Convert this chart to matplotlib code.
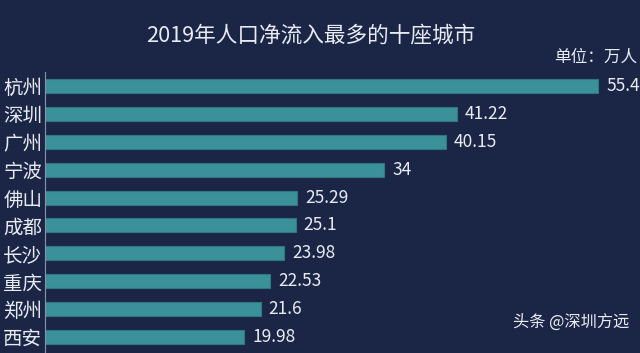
import matplotlib.pyplot as plt

plt.rcParams['font.family'] = ['Noto Sans CJK SC', 'DejaVu Sans']

cities = ['杭州', '深圳', '广州', '宁波', '佛山', '成都', '长沙', '重庆', '郑州', '西安']
values = [55.4, 41.22, 40.15, 34, 25.29, 25.1, 23.98, 22.53, 21.6, 19.98]
labels = ['55.4', '41.22', '40.15', '34', '25.29', '25.1', '23.98', '22.53', '21.6', '19.98']

bg = '#1b2546'
bar_color = '#3b9199'

fig = plt.figure(figsize=(6.4, 3.53), dpi=100, facecolor=bg)
ax = fig.add_axes([45 / 640, 0, 595 / 640, 281 / 353])
ax.set_facecolor(bg)

pos = range(len(cities))
ax.barh(pos, values, height=0.5, color=bar_color, edgecolor='#2f7880', linewidth=0.8)
for i, (v, t) in enumerate(zip(values, labels)):
    ax.text(v + 0.8, i, t, color='#e8ecf2', fontsize=12.5, va='center', ha='left')

ax.set_xlim(0, 59.6)
ax.set_ylim(9.57, -0.5)
ax.set_yticks(list(pos))
ax.set_yticklabels(cities, color='#e8ecf2', fontsize=14)
ax.tick_params(axis='y', length=0, pad=2)
ax.set_xticks([])
for s in ['top', 'right', 'bottom']:
    ax.spines[s].set_visible(False)
ax.spines['left'].set_color('#8a93a8')
ax.spines['left'].set_linewidth(0.8)

fig.text(311 / 640, 1 - 35 / 353, '2019年人口净流入最多的十座城市', color='#e8ecf2',
         fontsize=15.6, ha='center', va='center')
fig.text(637 / 640, 1 - 57 / 353, '单位：万人', color='#e8ecf2', fontsize=12,
         ha='right', va='center')
fig.text(629 / 640, 1 - 322 / 353, '头条 @深圳方远', color='#e8ecf2', fontsize=11.7,
         ha='right', va='center')

fig.savefig('out.png', dpi=100, facecolor=bg)
